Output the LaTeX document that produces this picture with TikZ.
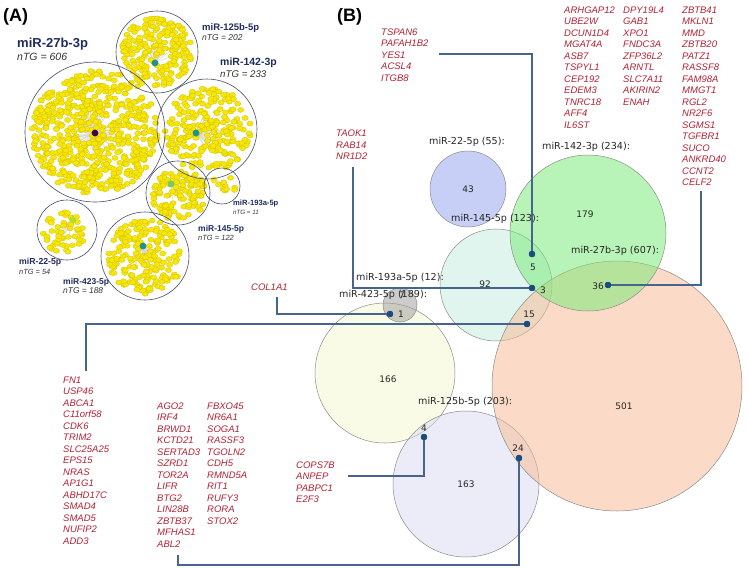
\documentclass[tikz,border=0pt]{standalone}
\usepackage{fontspec}
\setmainfont{Liberation Sans}
\newfontfamily\dejavu{DejaVu Sans}
\definecolor{gene}{RGB}{178,34,52}
\definecolor{navy}{RGB}{30,45,95}
\definecolor{conn}{RGB}{70,100,140}
\definecolor{dotc}{RGB}{28,75,125}
\definecolor{yfill}{RGB}{246,230,10}
\definecolor{yline}{RGB}{214,196,0}
\definecolor{hubA}{RGB}{68,1,84}
\definecolor{hubB}{RGB}{33,145,140}
\definecolor{hubC}{RGB}{120,200,100}
\definecolor{hubD}{RGB}{181,222,43}
\definecolor{cv22}{RGB}{145,161,241}
\definecolor{cv423}{RGB}{247,249,209}
\definecolor{cv193}{RGB}{155,155,155}
\definecolor{cv125}{RGB}{217,219,241}
\definecolor{cv145}{RGB}{197,237,225}
\definecolor{cv142}{RGB}{115,235,115}
\definecolor{cv27}{RGB}{249,185,145}
\tikzset{
  genelist/.style={anchor=north west, inner sep=0pt, align=left, text=gene,
    font=\fontsize{9.5pt}{11.5pt}\selectfont\itshape},
  venlab/.style={anchor=west, inner sep=0pt, text=black!85,
    font=\dejavu\fontsize{9.6pt}{11pt}\selectfont},
  vnum/.style={inner sep=0pt, text=black!85, font=\dejavu\fontsize{9pt}{11pt}\selectfont},
  conline/.style={draw=conn, line width=1.2pt},
  jdot/.style={circle, fill=dotc, inner sep=0pt, minimum size=6.4pt},
  venn/.style={circle, draw=black!45, line width=0.5pt, fill opacity=0.5, inner sep=0pt},
  clus/.style={circle, draw=navy!70!black!80, line width=0.6pt, inner sep=0pt},
  mirname/.style={anchor=west, inner sep=0pt, text=navy, font=\bfseries},
  ntg/.style={anchor=west, inner sep=0pt, text=black!80, font=\itshape},
  ydot/.style={fill=yfill, draw=yline, line width=0.3pt},
  panel/.style={anchor=west, inner sep=0pt, font=\fontsize{18pt}{20pt}\selectfont\bfseries}
}
% #1,#2 dots centre; #3 number; #4 radius; #5,#6 hub; #7 hub colour
\newcommand\mycluster[7]{%
  \pgfmathsetseed{#3}
  \foreach \i in {1,...,#3} {
    \pgfmathsetmacro\rr{#4*sqrt(rnd)}
    \pgfmathsetmacro\aa{360*rnd}
    \pgfmathtruncatemacro\keep{(\rr<0.45*#4) ? 1 : 0}
    \ifnum\keep=1
      \draw[gray!30, line width=0.5pt] (#5,#6) -- ([shift={(\aa:\rr pt)}]#1,#2);
    \fi
  }
  \pgfmathsetseed{#3}
  \foreach \i in {1,...,#3} {
    \pgfmathsetmacro\rr{#4*sqrt(rnd)}
    \pgfmathsetmacro\aa{360*rnd}
    \filldraw[ydot] ([shift={(\aa:\rr pt)}]#1,#2) ellipse (3.1pt and 2.5pt);
  }
  \fill[#7] (#5,#6) circle (3.4pt);
}
\begin{document}
\begin{tikzpicture}[x=1pt,y=-1pt]
\useasboundingbox (0,0) rectangle (748,568);
\fill[white] (0,0) rectangle (748,568);

% ---------------- Panel A ----------------
\node[panel] (pA) at (3,17) {(A)};
\mycluster{95}{132}{606}{63}{95}{133}{hubA}
\mycluster{157}{52}{202}{35}{155}{63}{hubB}
\mycluster{208}{130}{233}{43}{196}{133}{hubB}
\mycluster{179}{194}{122}{27}{171}{184}{hubC}
\mycluster{227}{185}{11}{10}{214}{180}{yfill}
\mycluster{65}{233}{54}{22}{73}{220}{hubD}
\mycluster{145}{257}{188}{38}{143}{246}{hubB}
\node[clus, minimum size=140pt] (c27) at (95,132) {};
\node[clus, minimum size=82pt] (c125) at (157,52) {};
\node[clus, minimum size=100pt] (c142) at (207,129) {};
\node[clus, minimum size=64pt] (c145) at (178,193) {};
\node[clus, minimum size=36pt] (c193) at (222,186) {};
\node[clus, minimum size=60pt] (c22) at (67,230) {};
\node[clus, minimum size=88pt] (c423) at (145,256) {};

\node[mirname, font=\fontsize{13pt}{15pt}\selectfont\bfseries] (l27) at (17,44) {miR-27b-3p};
\node[ntg, font=\fontsize{10.5pt}{12pt}\selectfont\itshape] (n27) at (17,57) {nTG = 606};
\node[mirname, font=\fontsize{9.5pt}{11pt}\selectfont\bfseries] (l125) at (202,28) {miR-125b-5p};
\node[ntg, font=\fontsize{8.5pt}{10pt}\selectfont\itshape] (n125) at (202,38) {nTG = 202};
\node[mirname, font=\fontsize{10.5pt}{12pt}\selectfont\bfseries] (l142) at (220,63) {miR-142-3p};
\node[ntg, font=\fontsize{9.7pt}{11pt}\selectfont\itshape] (n142) at (220,74) {nTG = 233};
\node[mirname, font=\fontsize{7.6pt}{9pt}\selectfont\bfseries] (l193) at (233,204) {miR-193a-5p};
\node[ntg, font=\fontsize{6.2pt}{7pt}\selectfont\itshape] (n193) at (233,212) {nTG = 11};
\node[mirname, font=\fontsize{8.5pt}{10pt}\selectfont\bfseries] (l145) at (198,229) {miR-145-5p};
\node[ntg, font=\fontsize{7.5pt}{9pt}\selectfont\itshape] (n145) at (198,238) {nTG = 122};
\node[mirname, font=\fontsize{8.7pt}{10pt}\selectfont\bfseries] (l22) at (19,262) {miR-22-5p};
\node[ntg, font=\fontsize{7.4pt}{9pt}\selectfont\itshape] (n22) at (19,272) {nTG = 54};
\node[mirname, font=\fontsize{8.5pt}{10pt}\selectfont\bfseries] (l423) at (63,282) {miR-423-5p};
\node[ntg, font=\fontsize{8.4pt}{10pt}\selectfont\itshape] (n423) at (63,291) {nTG = 188};

% ---------------- Panel B ----------------
\node[panel] (pB) at (337,17) {(B)};
\node[venn, fill=cv22, minimum size=76pt] (v22) at (468,189) {};
\node[venn, fill=cv423, minimum size=140pt] (v423) at (385,373) {};
\node[venn, fill=cv193, minimum size=34pt] (v193) at (400,305) {};
\node[venn, fill=cv125, minimum size=146pt] (v125) at (466,484) {};
\node[venn, fill=cv145, minimum size=112pt] (v145) at (496,285) {};
\node[venn, fill=cv27, minimum size=250pt] (v27) at (617,386) {};
\node[venn, fill=cv142, minimum size=156pt] (v142) at (588,233) {};

\node[venlab] (t22) at (429,142) {miR-22-5p (55):};
\node[venlab] (t142) at (542,147) {miR-142-3p (234):};
\node[venlab] (t145) at (451,219) {miR-145-5p (123):};
\node[venlab] (t27) at (571,251) {miR-27b-3p (607):};
\node[venlab] (t193) at (356,278) {miR-193a-5p (12):};
\node[venlab] (t125) at (418,402) {miR-125b-5p (203):};

% gene lists
\node[genelist] (gTS) at (381,28.6) {TSPAN6\\PAFAH1B2\\YES1\\ACSL4\\ITGB8};
\node[genelist] (gTA) at (336,130) {TAOK1\\RAB14\\NR1D2};
\node[genelist] (gR1) at (564,6.6) {ARHGAP12\\UBE2W\\DCUN1D4\\MGAT4A\\ASB7\\TSPYL1\\CEP192\\EDEM3\\TNRC18\\AFF4\\IL6ST};
\node[genelist] (gR2) at (623,6.6) {DPY19L4\\GAB1\\XPO1\\FNDC3A\\ZFP36L2\\ARNTL\\SLC7A11\\AKIRIN2\\ENAH};
\node[genelist] (gR3) at (682,6.6) {ZBTB41\\MKLN1\\MMD\\ZBTB20\\PATZ1\\RASSF8\\FAM98A\\MMGT1\\RGL2\\NR2F6\\SGMS1\\TGFBR1\\SUCO\\ANKRD40\\CCNT2\\CELF2};
\node[genelist] (gCO) at (251,283.6) {COL1A1};
\node[genelist] (gFN) at (63,376.6) {FN1\\USP46\\ABCA1\\C11orf58\\CDK6\\TRIM2\\SLC25A25\\EPS15\\NRAS\\AP1G1\\ABHD17C\\SMAD4\\SMAD5\\NUFIP2\\ADD3};
\node[genelist] (gAG) at (157,402.6) {AGO2\\IRF4\\BRWD1\\KCTD21\\SERTAD3\\SZRD1\\TOR2A\\LIFR\\BTG2\\LIN28B\\ZBTB37\\MFHAS1\\ABL2};
\node[genelist] (gFB) at (207,402.6) {FBXO45\\NR6A1\\SOGA1\\RASSF3\\TGOLN2\\CDH5\\RMND5A\\RIT1\\RUFY3\\RORA\\STOX2};
\node[genelist] (gCP) at (296,461.6) {COPS7B\\ANPEP\\PABPC1\\E2F3};

% connector ends
\coordinate (e5) at (439,54);
\coordinate (e3) at (353,167);
\coordinate (e36) at (701,191);
\coordinate (e15) at (86,371);
\coordinate (e1) at (277,297);
\coordinate (e4) at (348,476);
\coordinate (k24) at (178,565);
\coordinate (e24) at (178,555);

\node[jdot] (d5) at (532,254) {};
\node[jdot] (d3) at (532,288) {};
\node[jdot] (d36) at (608,285) {};
\node[jdot] (d15) at (527,324) {};
\node[jdot] (d1) at (390,314) {};
\node[jdot] (d4) at (424,437) {};
\node[jdot] (d24) at (519,458) {};

\draw[conline] (e5) -| (d5.center);
\draw[conline] (e3) |- (d3.center);
\draw[conline] (d36.center) -| (e36);
\draw[conline] (d15.center) -| (e15);
\draw[conline] (d1.center) -| (e1);
\draw[conline] (d4.center) |- (e4);
\draw[conline] (d24.center) |- (k24) -- (e24);

\foreach \n in {d5,d3,d36,d15,d1,d4,d24} \fill[dotc] (\n) circle (3.2pt);

% region counts
\node[vnum] (n43) at (468,189) {43};
\node[vnum] (n179) at (585,214) {179};
\node[vnum] (n92) at (485,284) {92};
\node[vnum] (n5) at (533,267) {5};
\node[vnum] (n3) at (543,290) {3};
\node[vnum] (n36) at (598,286) {36};
\node[vnum] (n15) at (529,314) {15};
\node[vnum] (n7) at (402,295) {7};
\node[vnum] (n1) at (401,314) {1};
\node[vnum] (n166) at (388,379) {166};
\node[vnum] (n501) at (624,406) {501};
\node[vnum] (n4) at (424,428) {4};
\node[vnum] (n24) at (518,448) {24};
\node[vnum] (n163) at (466,484) {163};
\node[venlab] (t423) at (339,295) {miR-423-5p (189):};
\end{tikzpicture}
\end{document}
